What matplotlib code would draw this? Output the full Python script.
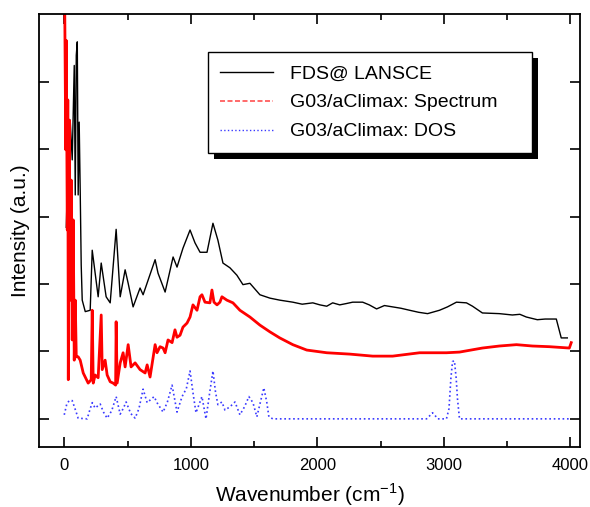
import matplotlib.pyplot as plt
from matplotlib.lines import Line2D
from matplotlib.patches import Rectangle

plt.rcParams['font.family'] = ['Liberation Sans', 'DejaVu Sans']

# FDS @ LANSCE measured spectrum
fds_x = [16, 32, 47, 63, 79, 87, 95, 103, 110, 118, 126, 134, 142, 166, 205, 221, 268, 292, 331, 363,
         410, 442, 481, 505, 544, 599, 623, 718, 741, 797, 860, 891, 938, 994, 1033, 1073, 1128, 1175,
         1214, 1254, 1309, 1364, 1412, 1467, 1546, 1625, 1703, 1806, 1880, 1964, 2020, 2074, 2121, 2177,
         2230, 2279, 2358, 2410, 2468, 2530, 2595, 2660, 2729, 2800, 2871, 2965, 3028, 3099, 3178, 3226,
         3304, 3438, 3541, 3600, 3651, 3738, 3800, 3888, 3927, 3975]
fds_y = [2.84, 3.99, 4.43, 3.84, 5.24, 3.32, 5.39, 5.59, 3.32, 4.40, 3.39, 2.28, 1.76, 1.59, 1.61, 2.50,
         1.81, 2.31, 1.81, 1.72, 2.81, 1.81, 2.21, 2.01, 1.66, 1.94, 1.84, 2.36, 2.16, 1.88, 2.40, 2.25,
         2.53, 2.80, 2.61, 2.47, 2.47, 2.90, 2.65, 2.31, 2.24, 2.13, 1.99, 2.01, 1.84, 1.79, 1.76, 1.73,
         1.70, 1.72, 1.69, 1.67, 1.72, 1.69, 1.71, 1.73, 1.73, 1.69, 1.63, 1.68, 1.66, 1.64, 1.61, 1.58,
         1.56, 1.61, 1.66, 1.73, 1.72, 1.67, 1.57, 1.56, 1.54, 1.55, 1.51, 1.47, 1.48, 1.48, 1.20, 1.20]

# G03/aClimax simulated spectrum
spec_x = [4, 12, 16, 24, 28, 32, 39, 47, 55, 63, 71, 79, 87, 95, 110, 126, 150, 189, 213, 221, 229, 244,
          268, 292, 300, 323, 339, 363, 386, 406, 410, 418, 442, 465, 481, 505, 528, 560, 599, 639, 655,
          678, 718, 733, 757, 781, 797, 820, 852, 875, 891, 915, 938, 970, 994, 1017, 1049, 1073, 1088,
          1112, 1151, 1167, 1183, 1207, 1230, 1246, 1285, 1333, 1388, 1467, 1546, 1625, 1703, 1806,
          1916, 2074, 2256, 2437, 2595, 2808, 3020, 3123, 3304, 3438, 3573, 3699, 3833, 3991, 4006]
spec_y = [6.06, 3.99, 5.61, 2.80, 4.73, 0.58, 4.43, 1.76, 3.54, 1.17, 2.95, 0.87, 1.76, 0.92, 0.92, 0.87,
          0.68, 0.53, 0.58, 1.61, 0.53, 0.65, 0.61, 1.54, 0.73, 0.87, 0.65, 0.55, 0.53, 0.50, 1.44, 0.53,
          0.83, 0.98, 0.77, 1.10, 0.77, 0.83, 0.73, 0.68, 0.80, 0.62, 1.10, 0.98, 1.07, 1.05, 0.98, 1.17,
          1.13, 1.32, 1.21, 1.24, 1.36, 1.42, 1.51, 1.69, 1.61, 1.81, 1.84, 1.73, 1.72, 1.91, 1.73, 1.69,
          1.73, 1.81, 1.76, 1.72, 1.61, 1.51, 1.39, 1.29, 1.20, 1.10, 1.02, 0.98, 0.96, 0.93, 0.93, 0.98,
          0.98, 0.99, 1.05, 1.08, 1.10, 1.08, 1.07, 1.05, 1.13]

# G03/aClimax density of states
dos_x = [0, 20, 39, 63, 85, 110, 181, 200, 221, 244, 284, 310, 339, 375, 410, 442, 465, 489, 525, 560,
         590, 623, 655, 710, 733, 781, 815, 852, 891, 931, 965, 994, 1020, 1041, 1088, 1120, 1150, 1175,
         1195, 1214, 1246, 1270, 1310, 1349, 1388, 1425, 1459, 1491, 1522, 1550, 1577, 1600, 1617, 1648,
         2863, 2890, 2910, 2930, 2950, 3020, 3040, 3055, 3068, 3083, 3097, 3107, 3123, 4000]
dos_y = [0.06, 0.22, 0.27, 0.27, 0.15, 0.01, 0.0, 0.12, 0.24, 0.16, 0.22, 0.10, 0.01, 0.12, 0.33, 0.07,
         0.15, 0.25, 0.08, 0.01, 0.15, 0.44, 0.24, 0.33, 0.24, 0.10, 0.25, 0.50, 0.10, 0.33, 0.45, 0.71,
         0.35, 0.09, 0.33, 0.0, 0.40, 0.71, 0.40, 0.21, 0.25, 0.13, 0.18, 0.25, 0.06, 0.18, 0.33, 0.24,
         0.03, 0.25, 0.46, 0.25, 0.03, 0.0, 0.0, 0.05, 0.09, 0.05, 0.0, 0.0, 0.15, 0.60, 0.85, 0.86, 0.60,
         0.30, 0.0, 0.0]

fig = plt.figure(figsize=(5.9, 5.07), dpi=100)
ax = fig.add_axes([0.066, 0.118, 0.917, 0.854])

ax.plot(fds_x, fds_y, color='black', lw=1.0)
ax.plot(spec_x, spec_y, color='red', lw=2.0)
ax.plot(dos_x, dos_y, color='#3a3aff', lw=1.2, linestyle=':')

ax.set_xlim(-200, 4075)
ax.set_ylim(-0.42, 6.0)
ax.set_xticks([0, 1000, 2000, 3000, 4000])
ax.set_xticks([500, 1500, 2500, 3500], minor=True)
ax.set_yticks([0, 1, 2, 3, 4, 5])
ax.set_yticklabels([])
ax.tick_params(which='both', direction='in', top=True, right=True, labelsize=12, width=1.2)
ax.tick_params(which='major', length=7)
ax.tick_params(which='minor', length=4)
ax.tick_params(axis='x', pad=8)
for s in ax.spines.values():
    s.set_linewidth(1.3)

ax.set_xlabel('Wavenumber (cm$^{\\mathregular{-1}}$)', fontsize=15, labelpad=6)
ax.set_ylabel('Intensity (a.u.)', fontsize=15, labelpad=3)

handles = [Line2D([], [], color='black', lw=1.0),
           Line2D([], [], color='#ff5050', lw=1.2, linestyle=(0, (3, 1.5))),
           Line2D([], [], color='#3a3aff', lw=1.0, linestyle=':')]
labels = ['FDS@ LANSCE', 'G03/aClimax: Spectrum', 'G03/aClimax: DOS']
leg = ax.legend(handles, labels, loc='upper left', bbox_to_anchor=(0.312, 0.681, 0.599, 0.231),
                mode='expand', borderaxespad=0, fontsize=14, handlelength=2.7, handletextpad=0.9,
                labelspacing=0.58, borderpad=0.65, fancybox=False, framealpha=1,
                edgecolor='black')
leg.get_frame().set_linewidth(1.0)

# heavier offset shadow like the original
fig.canvas.draw()
bb = leg.get_window_extent().transformed(ax.transAxes.inverted())
dx = 6 / ax.bbox.width
dy = 6 / ax.bbox.height
ax.add_patch(Rectangle((bb.x0 + dx, bb.y0 - dy), bb.width, bb.height, transform=ax.transAxes,
                       facecolor='black', edgecolor='none', zorder=4.9, clip_on=False))

plt.savefig('out.png', dpi=100)
